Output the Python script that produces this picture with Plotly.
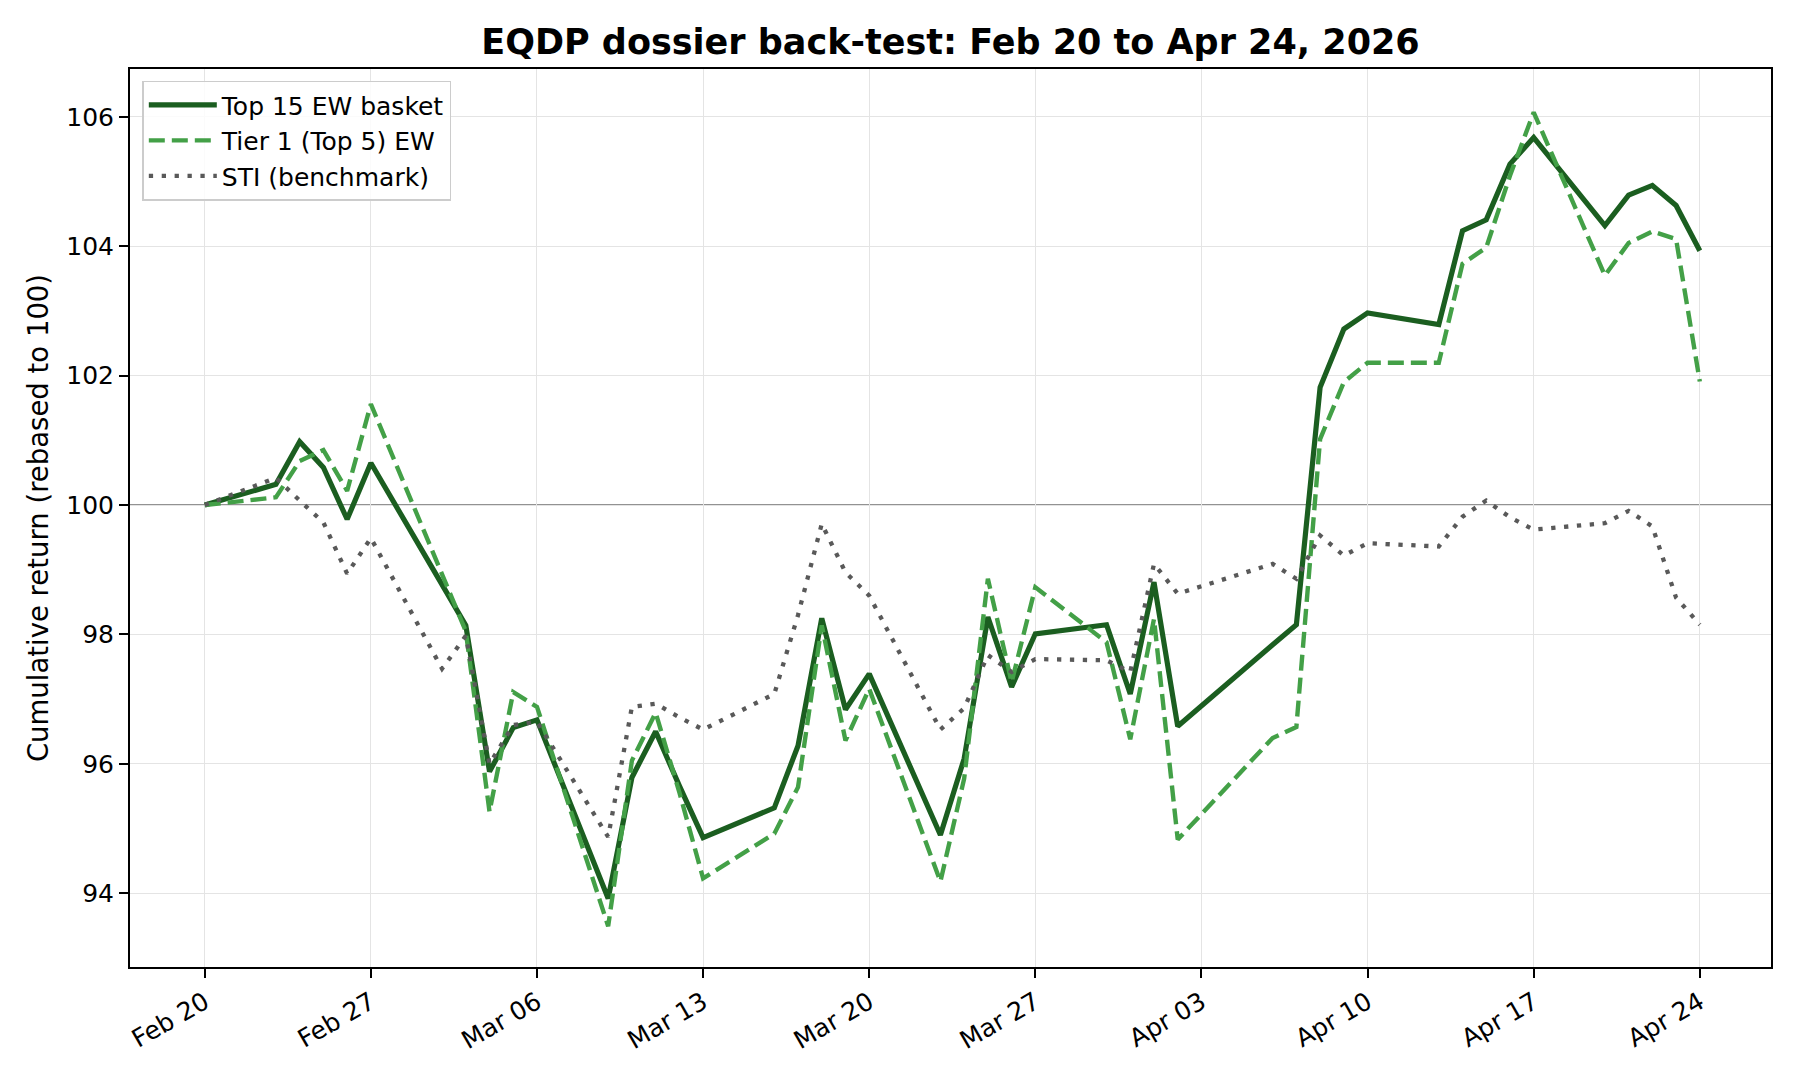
import pandas as pd
import plotly.graph_objects as go

# ---- data ----
dates = [
    "2026-02-20", "2026-02-23", "2026-02-24", "2026-02-25", "2026-02-26", "2026-02-27",
    "2026-03-02", "2026-03-03", "2026-03-04", "2026-03-05", "2026-03-06",
    "2026-03-09", "2026-03-10", "2026-03-11", "2026-03-12", "2026-03-13",
    "2026-03-16", "2026-03-17", "2026-03-18", "2026-03-19", "2026-03-20",
    "2026-03-23", "2026-03-24", "2026-03-25", "2026-03-26", "2026-03-27",
    "2026-03-30", "2026-03-31", "2026-04-01", "2026-04-02",
    "2026-04-06", "2026-04-07", "2026-04-08", "2026-04-09", "2026-04-10",
    "2026-04-13", "2026-04-14", "2026-04-15", "2026-04-16", "2026-04-17",
    "2026-04-20", "2026-04-21", "2026-04-22", "2026-04-23", "2026-04-24",
]

top15 = [
    100.00, 100.32, 100.98, 100.58, 99.78, 100.65,
    98.77, 98.14, 95.88, 96.56, 96.68,
    93.92, 95.79, 96.50, 95.66, 94.86,
    95.32, 96.28, 98.25, 96.84, 97.39,
    94.90, 96.08, 98.27, 97.19, 98.01,
    98.15, 97.08, 98.81, 96.58,
    97.84, 98.15, 101.82, 102.72, 102.97,
    102.79, 104.24, 104.41, 105.27, 105.68,
    104.32, 104.79, 104.94, 104.63, 103.93,
]

tier1 = [
    100.00, 100.12, 100.68, 100.85, 100.22, 101.56,
    98.93, 98.05, 95.26, 97.11, 96.88,
    93.49, 96.05, 96.79, 95.56, 94.23,
    94.92, 95.64, 98.14, 96.36, 97.16,
    94.18, 95.77, 98.86, 97.26, 98.73,
    97.88, 96.38, 98.24, 94.83,
    96.40, 96.57, 101.02, 101.90, 102.20,
    102.20, 103.73, 103.98, 105.09, 106.07,
    103.55, 104.05, 104.23, 104.11, 101.91,
]

sti = [
    100.00, 100.42, 100.07, 99.73, 98.94, 99.49,
    97.47, 97.98, 96.00, 96.60, 96.65,
    94.87, 96.88, 96.93, 96.72, 96.53,
    97.08, 98.30, 99.71, 98.96, 98.60,
    96.53, 96.86, 97.68, 97.42, 97.62,
    97.60, 97.42, 99.09, 98.63,
    99.09, 98.86, 99.53, 99.22, 99.41,
    99.36, 99.82, 100.07, 99.81, 99.62,
    99.72, 99.91, 99.67, 98.57, 98.15,
]

tick_dates = ["2026-02-20", "2026-02-27", "2026-03-06", "2026-03-13", "2026-03-20",
              "2026-03-27", "2026-04-03", "2026-04-10", "2026-04-17", "2026-04-24"]
tick_labels = ["Feb 20", "Feb 27", "Mar 06", "Mar 13", "Mar 20",
               "Mar 27", "Apr 03", "Apr 10", "Apr 17", "Apr 24"]
y_ticks = [94, 96, 98, 100, 102, 104, 106]

series_names = ["Top 15 EW basket", "Tier 1 (Top 5) EW", "STI (benchmark)"]
title_text = "EQDP dossier back-test: Feb 20 to Apr 24, 2026"
y_title = "Cumulative return (rebased to 100)"

# ---- figure ----
FONT = "DejaVu Sans"
x = pd.to_datetime(dates)

fig = go.Figure()
fig.add_trace(go.Scatter(
    x=x, y=top15, mode="lines", name=series_names[0], legendgroup="a",
    line=dict(color="#1b5e20", width=5.2),
))
fig.add_trace(go.Scatter(
    x=x, y=tier1, mode="lines", name=series_names[1], legendgroup="b",
    line=dict(color="#43a047", width=4.4, dash="16px,7px"),
))
fig.add_trace(go.Scatter(
    x=x, y=sti, mode="lines", name=series_names[2], legendgroup="c",
    line=dict(color="#595959", width=4.3, dash="4.3px,8.6px"),
))

x0 = x.min() - pd.Timedelta(days=3.15)
x1 = x.max() + pd.Timedelta(days=3.0)

fig.add_shape(type="line", xref="paper", yref="y", x0=0, x1=1, y0=100, y1=100,
              line=dict(color="#6e6e6e", width=1.4), layer="below")

W, H = 1792, 1072
fig.update_layout(
    width=W, height=H,
    paper_bgcolor="white", plot_bgcolor="white",
    margin=dict(l=122, r=29, t=61, b=113),
    font=dict(family=FONT, size=25, color="black"),
    title=dict(text="<b>" + title_text + "</b>", x=0.5, xref="paper",
               y=1 - 34 / H, yanchor="middle", yref="container",
               font=dict(family=FONT, size=35, color="black")),
    showlegend=True,
    legend=dict(x=0.0075, y=0.987, xanchor="left", yanchor="top",
                bgcolor="rgba(255,255,255,0.85)", bordercolor="#cccccc", borderwidth=1.5,
                font=dict(family=FONT, size=25, color="black"),
                itemwidth=68, tracegroupgap=0),
)

fig.update_xaxes(
    type="date", range=[x0, x1],
    tickmode="array", tickvals=pd.to_datetime(tick_dates), ticktext=tick_labels,
    tickangle=-30, ticks="outside", ticklen=9, tickwidth=2, tickcolor="black",
    showline=True, linecolor="black", linewidth=2, mirror=True,
    showgrid=True, gridcolor="#e4e4e4", gridwidth=1.4,
    zeroline=False, tickfont=dict(family=FONT, size=25, color="black"),
)
fig.update_yaxes(
    range=[92.86, 106.74],
    tickmode="array", tickvals=y_ticks, ticktext=[str(v) for v in y_ticks],
    ticks="outside", ticklen=9, tickwidth=2, tickcolor="black",
    showline=True, linecolor="black", linewidth=2, mirror=True,
    showgrid=True, gridcolor="#e4e4e4", gridwidth=1.4,
    zeroline=False, tickfont=dict(family=FONT, size=25, color="black"),
    title=dict(text=y_title, font=dict(family=FONT, size=27.5, color="black"), standoff=10),
)

fig.write_html("out.html")
